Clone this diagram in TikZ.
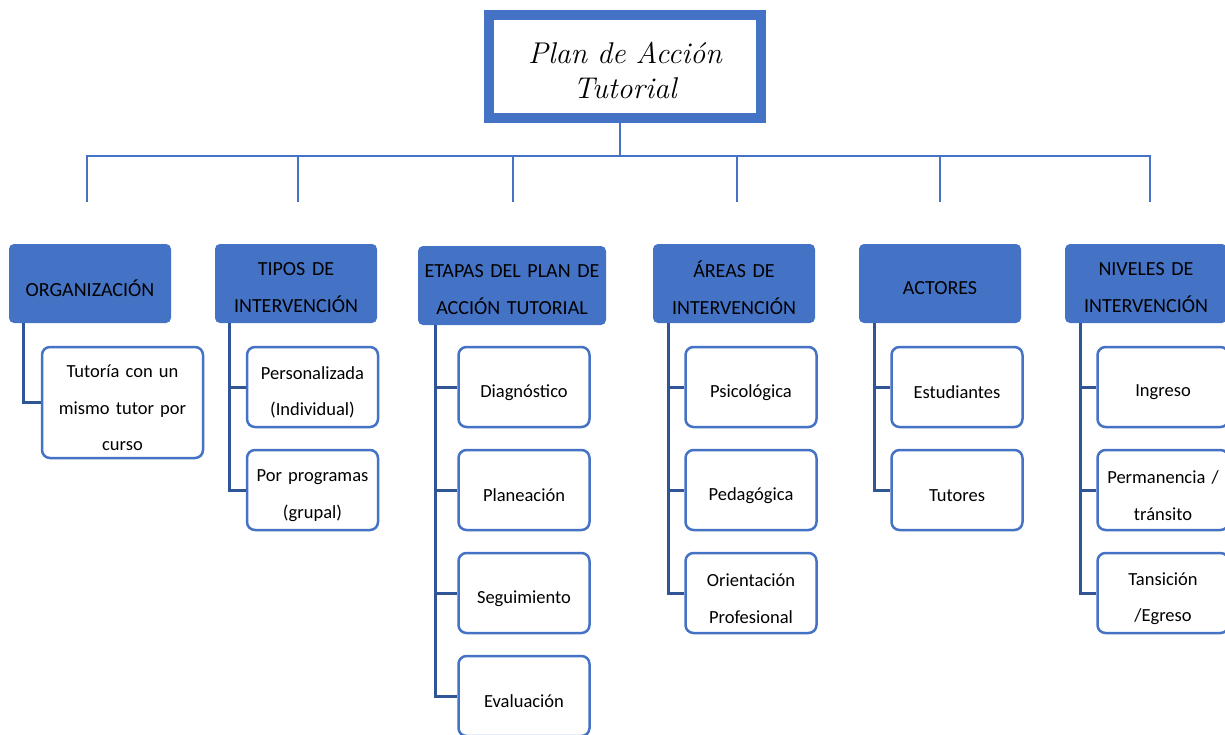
\documentclass[tikz,border=0pt]{standalone}
\usepackage{fontspec}
\newfontfamily\hdrfont{Carlito}
\usetikzlibrary{calc}
\definecolor{hblue}{HTML}{4472C4}
\definecolor{cblue}{HTML}{2F5597}
\begin{document}
\begin{tikzpicture}[x=1pt,y=-1pt,
  hdr/.style={rectangle,rounded corners=5pt,fill=hblue,draw=none,minimum width=162pt,minimum height=79pt,inner sep=0pt},
  htxt/.style={inner sep=0pt,text width=186pt,align=center,font=\hdrfont\fontsize{20}{37}\selectfont,text=black,yshift=-4.5pt},
  kid/.style={rectangle,rounded corners=8pt,fill=white,draw=hblue,line width=2.5pt,minimum width=131pt,minimum height=80pt,inner sep=0pt},
  ktxt/.style={inner sep=0pt,text width=160pt,align=center,font=\hdrfont\fontsize{18.5}{36.5}\selectfont,text=black,yshift=-5.5pt},
  conn/.style={draw=cblue,line width=3pt},
  top/.style={draw=hblue,line width=1.5pt}]
\useasboundingbox (0,0) rectangle (1225,734);
\clip (0,0) rectangle (1225,734);
% title
\node[rectangle,draw=hblue,line width=10pt,fill=white,minimum width=272pt,minimum height=103pt,inner sep=0pt,
  label={[inner sep=0pt,text width=260pt,align=center,font=\itshape\fontsize{30}{35}\selectfont,yshift=-3.5pt]center:{Plan de Acción\\Tutorial}}] (title) at (625,66.5) {};
% headers
\node[hdr,label={[htxt]center:{ORGANIZACIÓN}}] (h1) at (90,283.5) {};
\node[hdr,label={[htxt]center:{TIPOS DE\\INTERVENCIÓN}}] (h2) at (296,283.5) {};
\node[hdr,minimum width=188pt,label={[htxt]center:{ETAPAS DEL PLAN DE\\ACCIÓN TUTORIAL}}] (h3) at (512,285.5) {};
\node[hdr,label={[htxt]center:{ÁREAS DE\\INTERVENCIÓN}}] (h4) at (734,283.5) {};
\node[hdr,label={[htxt]center:{ACTORES}}] (h5) at (940,283.5) {};
\node[hdr,label={[htxt]center:{NIVELES DE\\INTERVENCIÓN}}] (h6) at (1146,283.5) {};
% top connectors
\coordinate (bar) at (620,156);
\coordinate (d1) at (87,202);
\coordinate (d2) at (298,202);
\coordinate (d3) at (513,202);
\coordinate (d4) at (737,202);
\coordinate (d5) at (940,202);
\coordinate (d6) at (1150,202);
\draw[top] (title.south -| bar) -- (bar);
\draw[top] (d1) |- (bar) -| (d6);
\foreach \d in {d2,d3,d4,d5}{\draw[top] (\d) -- (\d |- bar);}
% children
\node[kid,minimum width=161pt,minimum height=111pt,label={[ktxt]center:{Tutoría con un\\mismo tutor por\\curso}}] (c1a) at (122.5,402.5) {};
\node[kid,label={[ktxt]center:{Personalizada\\(Individual)}}] (c2a) at (312.5,387) {};
\node[kid,label={[ktxt]center:{Por programas\\(grupal)}}] (c2b) at (312.5,490) {};
\node[kid,label={[ktxt]center:{Diagnóstico}}] (c3a) at (524,387) {};
\node[kid,label={[ktxt]center:{Planeación}}] (c3b) at (524,490) {};
\node[kid,label={[ktxt]center:{Seguimiento}}] (c3c) at (524,593) {};
\node[kid,label={[ktxt]center:{Evaluación}}] (c3d) at (524,696) {};
\node[kid,label={[ktxt]center:{Psicológica}}] (c4a) at (751,387) {};
\node[kid,label={[ktxt]center:{Pedagógica}}] (c4b) at (751,490) {};
\node[kid,label={[ktxt]center:{Orientación\\Profesional}}] (c4c) at (751,593) {};
\node[kid,label={[ktxt]center:{Estudiantes}}] (c5a) at (957,387) {};
\node[kid,label={[ktxt]center:{Tutores}}] (c5b) at (957,490) {};
\node[kid,label={[ktxt]center:{Ingreso}}] (c6a) at (1163,387) {};
\node[kid,label={[ktxt]center:{Permanencia /\\tránsito}}] (c6b) at (1163,490) {};
\node[kid,label={[ktxt]center:{Tansición\\/Egreso}}] (c6c) at (1163,593) {};
% spines
\coordinate (s1) at ($(h1.south west)+(15,0)$);
\coordinate (s2) at ($(h2.south west)+(15,0)$);
\coordinate (s3) at ($(h3.south west)+(18,0)$);
\coordinate (s4) at ($(h4.south west)+(16,0)$);
\coordinate (s5) at ($(h5.south west)+(16,0)$);
\coordinate (s6) at ($(h6.south west)+(16,0)$);
\draw[conn] (s1) |- (c1a.west);
\foreach \c in {c2a,c2b}{\draw[conn] (s2) |- (\c.west);}
\foreach \c in {c3a,c3b,c3c,c3d}{\draw[conn] (s3) |- (\c.west);}
\foreach \c in {c4a,c4b,c4c}{\draw[conn] (s4) |- (\c.west);}
\foreach \c in {c5a,c5b}{\draw[conn] (s5) |- (\c.west);}
\foreach \c in {c6a,c6b,c6c}{\draw[conn] (s6) |- (\c.west);}
\end{tikzpicture}
\end{document}
